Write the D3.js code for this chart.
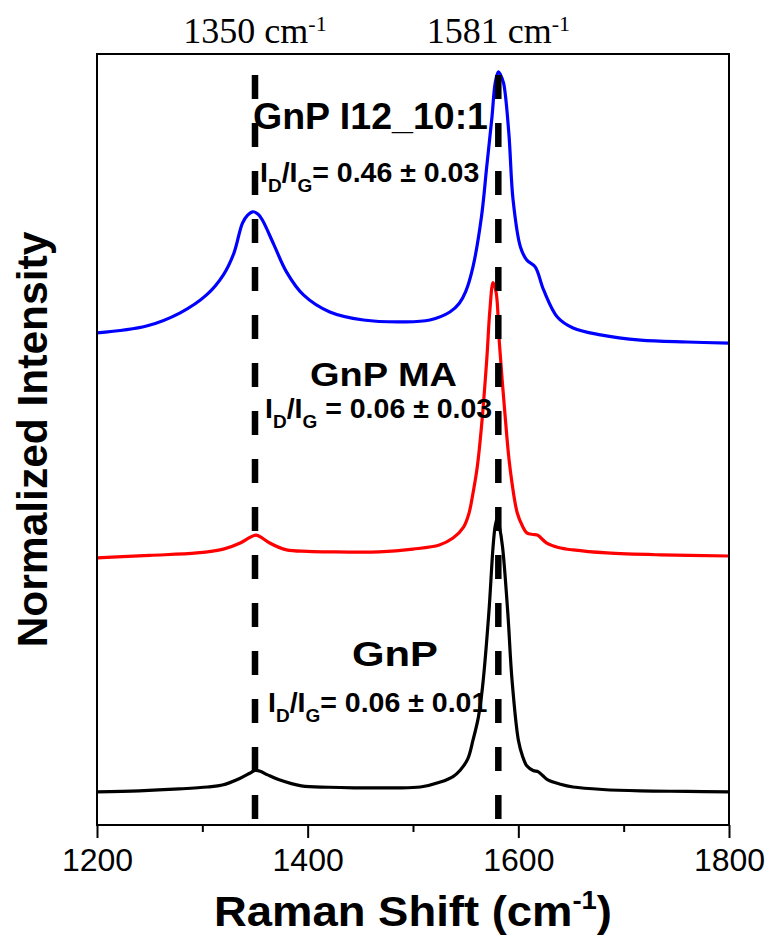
<!DOCTYPE html>
<html>
<head>
<meta charset="utf-8">
<script src="https://cdn.jsdelivr.net/npm/d3@7/dist/d3.min.js"></script>
<style>
  html, body { margin: 0; padding: 0; background: #fff; }
  svg { display: block; }
</style>
</head>
<body>
<svg id="chart" width="777" height="937"></svg>
<script>
// Raman spectra of graphene nanoplatelets, stacked with vertical offsets.
const xTicks = [1200, 1400, 1600, 1800];
const xMinorTicks = [1300, 1500, 1700];
const bandPositions = [1350, 1581];          // D and G band markers
const seriesNames = ["GnP", "GnP MA", "GnP I12_10:1"];
const seriesColors = ["#000000", "#ff0000", "#0000ff"];
const seriesOffsets = [0, 0.85, 1.63];
const ratioLabels = ["0.06 ± 0.01", "0.06 ± 0.03", "0.46 ± 0.03"];

// GnP
const gnpShift = [1200, 1240, 1278, 1305, 1319, 1336, 1345, 1350, 1355, 1362, 1373, 1394, 1420, 1444, 1480, 1507, 1526, 1538, 1545, 1552, 1557, 1562, 1566, 1572, 1576, 1578, 1580, 1582, 1585, 1590, 1594, 1600, 1604, 1608, 1614, 1619, 1623, 1628, 1640, 1652, 1680, 1716, 1760, 1800];
const gnpIntensity = [0.00, 0.004, 0.011, 0.018, 0.025, 0.05, 0.068, 0.078, 0.075, 0.062, 0.044, 0.022, 0.017, 0.015, 0.015, 0.018, 0.036, 0.056, 0.08, 0.12, 0.189, 0.27, 0.381, 0.65, 0.89, 0.965, 0.995, 0.965, 0.89, 0.65, 0.407, 0.189, 0.13, 0.095, 0.078, 0.073, 0.06, 0.044, 0.028, 0.018, 0.009, 0.004, 0.002, 0.0];

// GnP MA
const maShift = [1200, 1250, 1295, 1320, 1336, 1345, 1351, 1357, 1364, 1380, 1400, 1421, 1468, 1500, 1525, 1538, 1548, 1553, 1557, 1561, 1565, 1570, 1573, 1576, 1579, 1582, 1587, 1592, 1599, 1604, 1608, 1614, 1618, 1627, 1638, 1652, 1684, 1735, 1800];
const maIntensity = [0.0, 0.009, 0.018, 0.032, 0.054, 0.074, 0.083, 0.072, 0.054, 0.029, 0.024, 0.022, 0.022, 0.032, 0.047, 0.072, 0.112, 0.16, 0.236, 0.33, 0.476, 0.719, 0.90, 1.0, 0.962, 0.781, 0.537, 0.33, 0.163, 0.115, 0.091, 0.085, 0.083, 0.054, 0.038, 0.029, 0.018, 0.011, 0.007];

// GnP I12_10:1
const i12Shift = [1200, 1247, 1279, 1304, 1320, 1330, 1338, 1343, 1348, 1353, 1357, 1368, 1380, 1396, 1421, 1453, 1491, 1516, 1535, 1544, 1550, 1557, 1565, 1570, 1575, 1578, 1581, 1583, 1586, 1591, 1595, 1602, 1608, 1616, 1624, 1637, 1652, 1678, 1716, 1760, 1800];
const i12Intensity = [0.037, 0.062, 0.110, 0.175, 0.248, 0.327, 0.435, 0.465, 0.477, 0.468, 0.447, 0.357, 0.258, 0.175, 0.113, 0.084, 0.077, 0.084, 0.113, 0.145, 0.187, 0.278, 0.459, 0.641, 0.822, 0.944, 0.985, 0.975, 0.944, 0.762, 0.52, 0.349, 0.302, 0.277, 0.193, 0.095, 0.055, 0.030, 0.011, 0.004, 0.0];

const spectra = [
  { shift: gnpShift, intensity: gnpIntensity },
  { shift: maShift, intensity: maIntensity },
  { shift: i12Shift, intensity: i12Intensity }
];

const margin = { top: 54, right: 48, bottom: 112, left: 97 };
const width = 777, height = 937;
const svg = d3.select("#chart");

const x = d3.scaleLinear().domain([1200, 1800]).range([margin.left, width - margin.right]);
const y = d3.scaleLinear().domain([-0.12, 2.68]).range([height - margin.bottom, margin.top]);

const sans = "'Liberation Sans', Arial, Helvetica, sans-serif";
const serif = "'Liberation Serif', 'Times New Roman', serif";

// spectra
const line = d3.line().x(d => x(d[0])).y(d => y(d[1])).curve(d3.curveCatmullRom.alpha(0.5));
spectra.forEach((s, i) => {
  const pts = s.shift.map((w, j) => [w, s.intensity[j] + seriesOffsets[i]]);
  svg.append("path")
    .datum(pts)
    .attr("fill", "none")
    .attr("stroke", seriesColors[i])
    .attr("stroke-width", 3.2)
    .attr("stroke-linejoin", "round")
    .attr("d", line);
});

// band marker lines
svg.selectAll(".band")
  .data(bandPositions)
  .join("line")
  .attr("class", "band")
  .attr("x1", d => x(d)).attr("x2", d => x(d))
  .attr("y1", 75).attr("y2", height - margin.bottom - 2)
  .attr("stroke", "#000")
  .attr("stroke-width", 6.5)
  .attr("stroke-dasharray", "24,24");

// band labels above the frame
bandPositions.forEach(b => {
  const t = svg.append("text")
    .attr("x", x(b)).attr("y", 43)
    .attr("text-anchor", "middle")
    .attr("font-family", serif)
    .attr("font-size", 36)
    .attr("fill", "#000");
  t.append("tspan").text(b + " cm");
  t.append("tspan").attr("font-size", 22).attr("dy", -12).text("-1");
});

// frame
const plotL = margin.left, plotR = width - margin.right, plotT = margin.top, plotB = height - margin.bottom;
svg.append("rect")
  .attr("x", plotL).attr("y", plotT)
  .attr("width", plotR - plotL).attr("height", plotB - plotT)
  .attr("fill", "none").attr("stroke", "#000").attr("stroke-width", 2);

// x axis
const xAxis = d3.axisBottom(x).tickValues(xTicks).tickSize(13).tickPadding(10).tickFormat(d3.format("d"));
const gx = svg.append("g").attr("transform", `translate(0,${plotB})`).call(xAxis);
gx.select(".domain").remove();
gx.selectAll(".tick line").attr("stroke-width", 2);
gx.selectAll(".tick text")
  .attr("font-family", sans)
  .attr("font-size", 32)
  .attr("fill", "#000");
const gxm = svg.append("g").attr("transform", `translate(0,${plotB})`)
  .call(d3.axisBottom(x).tickValues(xMinorTicks).tickSize(7).tickFormat(""));
gxm.select(".domain").remove();
gxm.selectAll(".tick line").attr("stroke-width", 2);

// axis titles
const xt = svg.append("text")
  .attr("x", (plotL + plotR) / 2).attr("y", 926)
  .attr("text-anchor", "middle")
  .attr("font-family", sans).attr("font-weight", "bold")
  .attr("font-size", 43).attr("fill", "#000")
  .attr("textLength", 398).attr("lengthAdjust", "spacingAndGlyphs");
xt.append("tspan").text("Raman Shift (cm");
xt.append("tspan").attr("font-size", 26).attr("dy", -17).text("-1");
xt.append("tspan").attr("dy", 17).text(")");

svg.append("text")
  .attr("transform", `translate(47,${(plotT + plotB) / 2}) rotate(-90)`)
  .attr("text-anchor", "middle")
  .attr("font-family", sans).attr("font-weight", "bold")
  .attr("font-size", 42.5).attr("fill", "#000")
  .text("Normalized Intensity");

// sample names and I_D/I_G ratios
const nameLayout = [
  { x: 352, y: 666, size: 35, len: 86 },
  { x: 310, y: 386, size: 34, len: 147 },
  { x: 253, y: 129, size: 36, len: 235 }
];
const ratioLayout = [
  { x: 268, y: 712, eq: "= " },
  { x: 265, y: 418, eq: " = " },
  { x: 260, y: 182, eq: "= " }
];
seriesNames.forEach((n, i) => {
  const L = nameLayout[i];
  svg.append("text")
    .attr("x", L.x).attr("y", L.y)
    .attr("font-family", sans).attr("font-weight", "bold")
    .attr("font-size", L.size)
    .attr("textLength", L.len).attr("lengthAdjust", "spacingAndGlyphs")
    .attr("fill", "#000")
    .text(n);

  const R = ratioLayout[i];
  const t = svg.append("text")
    .attr("x", R.x).attr("y", R.y)
    .attr("font-family", sans).attr("font-weight", "bold")
    .attr("font-size", 28.5).attr("fill", "#000");
  t.append("tspan").text("I");
  t.append("tspan").attr("font-size", 19).attr("dy", 10).text("D");
  t.append("tspan").attr("dy", -10).text("/I");
  t.append("tspan").attr("font-size", 19).attr("dy", 10).text("G");
  t.append("tspan").attr("dy", -10).text(R.eq + ratioLabels[i]);
});
</script>
</body>
</html>
